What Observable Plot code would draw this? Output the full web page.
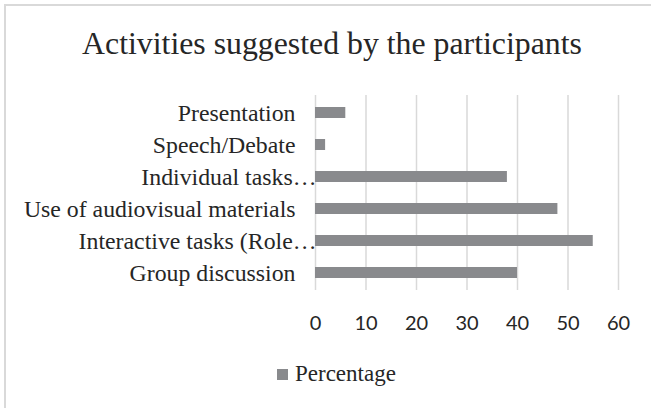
<!DOCTYPE html>
<html>
<head>
<meta charset="utf-8">
<script src="https://cdn.jsdelivr.net/npm/d3@7"></script>
<script src="https://cdn.jsdelivr.net/npm/@observablehq/plot@0.6"></script>
<style>
  html, body { margin: 0; padding: 0; background: #fff; }
  #wrap { position: relative; width: 651px; height: 408px; overflow: hidden; background: #fff; }
  #frame { position: absolute; left: 4px; top: 4px; width: 660px; height: 420px; border-left: 2px solid #d9d9d9; border-top: 2px solid #d9d9d9; box-sizing: border-box; }
  #title { position: absolute; left: 0; width: 664px; top: 24px; text-align: center; font-family: "Liberation Serif", "Times New Roman", serif; font-size: 31.8px; color: #262626; line-height: 40px; white-space: nowrap; }
  #chart { position: absolute; left: 0; top: 80px; }
  #legend { position: absolute; top: 360px; left: 277px; font-family: "Liberation Serif", "Times New Roman", serif; font-size: 23px; color: #262626; line-height: 28px; display: flex; align-items: center; }
  #legend .sw { width: 11px; height: 11px; margin-right: 7px; margin-top: 1px; }
</style>
</head>
<body>
<div id="wrap">
  <div id="frame"></div>
  <div id="title">Activities suggested by the participants</div>
  <div id="chart"></div>
  <div id="legend"></div>
</div>
<script>
const categories = [
  "Presentation",
  "Speech/Debate",
  "Individual tasks…",
  "Use of audiovisual materials",
  "Interactive tasks (Role…",
  "Group discussion"
];
const percentages = [6, 2, 38, 48, 55, 40];
const xTicks = [0, 10, 20, 30, 40, 50, 60];
const seriesName = "Percentage";

const barColor = "#898a8d";
const data = categories.map((c, i) => ({activity: c, value: percentages[i]}));
const truncated = categories.filter(c => c.endsWith("…"));
const full = categories.filter(c => !c.endsWith("…"));

const labelFont = "Liberation Serif, Times New Roman, serif";

const chart = Plot.plot({
  width: 651,
  height: 260,
  marginLeft: 315,
  marginRight: 33,
  marginTop: 15,
  marginBottom: 50,
  x: {domain: [0, 60], label: null},
  y: {domain: categories, paddingInner: 0.66, paddingOuter: 0.33, label: null},
  style: {background: "transparent", overflow: "visible"},
  marks: [
    Plot.gridX(xTicks, {stroke: "#d9d9d9", strokeOpacity: 1, strokeWidth: 1.5}),
    Plot.barX(data, {x: "value", y: "activity", fill: barColor}),
    Plot.axisX(xTicks, {tickSize: 0, tickPadding: 25, fontSize: 20, fontFamily: "Lato, Open Sans, sans-serif", fill: "#262626", label: null}),
    Plot.axisY(full, {tickSize: 0, tickPadding: 20, fontSize: 23.8, fontFamily: labelFont, fill: "#262626", label: null}),
    Plot.axisY(truncated, {tickSize: 0, tickPadding: -1, fontSize: 23.8, fontFamily: labelFont, fill: "#262626", label: null})
  ]
});
document.getElementById("chart").appendChild(chart);

const legend = document.getElementById("legend");
const sw = document.createElement("span");
sw.className = "sw";
sw.style.background = barColor;
legend.appendChild(sw);
const lt = document.createElement("span");
lt.textContent = seriesName;
legend.appendChild(lt);
</script>
</body>
</html>
